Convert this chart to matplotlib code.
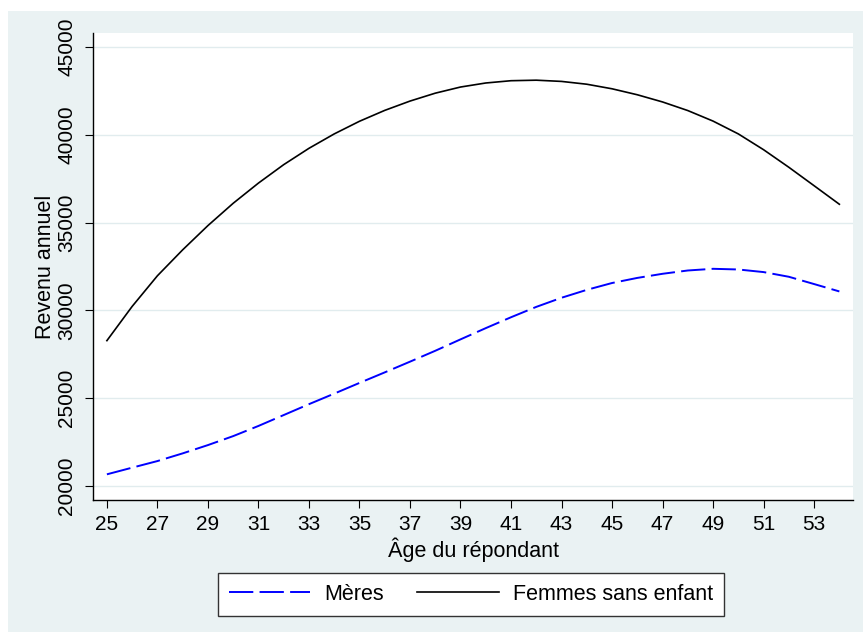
import matplotlib
matplotlib.use("Agg")
import matplotlib.pyplot as plt
from matplotlib.patches import Rectangle
from matplotlib.lines import Line2D

ages = list(range(25, 55))
meres = [20665, 21045, 21420, 21858, 22330, 22841, 23420, 24040, 24660, 25260,
         25870, 26470, 27080, 27700, 28350, 28990, 29610, 30200, 30720, 31170,
         31560, 31850, 32085, 32273, 32369, 32330, 32182, 31915, 31500, 31080]
sans_enfant = [28278, 30227, 31972, 33449, 34830, 36100, 37250, 38300, 39230, 40050,
               40770, 41390, 41920, 42370, 42720, 42950, 43080, 43110, 43040, 42880,
               42620, 42280, 41870, 41380, 40780, 40050, 39150, 38150, 37100, 36045]
xticks = list(range(25, 55, 2))
yticks = [20000, 25000, 30000, 35000, 40000, 45000]
series_labels = ["Mères", "Femmes sans enfant"]
xlabel = "Âge du répondant"
ylabel = "Revenu annuel"

plt.rcParams['font.family'] = ['Liberation Sans', 'DejaVu Sans']
plt.rcParams['lines.scale_dashes'] = False

W, H = 865, 632
fig = plt.figure(figsize=(W / 100, H / 100), dpi=100, facecolor='white')
bg = '#EAF2F3'
fig.patches.append(Rectangle((8 / W, 0), (863 - 8) / W, (632 - 11) / H,
                             transform=fig.transFigure, facecolor=bg,
                             edgecolor='none', zorder=-10))

ax = fig.add_axes([93 / W, (632 - 500) / H, (853 - 93) / W, (500 - 33) / H])
ax.set_facecolor('white')

blue_dash = (0, (17.5, 4.5))
ax.plot(ages, meres, color='#0000FF', lw=1.4, linestyle=blue_dash, zorder=3)
ax.plot(ages, sans_enfant, color='black', lw=1.2, zorder=3)

ax.set_xlim(24.45, 54.54)
ax.set_ylim(19203, 45797)
ax.set_xticks(xticks)
ax.set_yticks(yticks)
ax.set_yticklabels([str(v) for v in yticks], rotation=90, va='center')
ax.tick_params(axis='both', direction='out', length=6, width=0.8, color='black',
               labelsize=15, pad=5)
ax.tick_params(axis='y', pad=6)
ax.grid(axis='y', color='#E1ECEE', lw=1.0, zorder=0)
ax.set_axisbelow(True)
for s in ['top', 'right']:
    ax.spines[s].set_visible(False)
for s in ['left', 'bottom']:
    ax.spines[s].set_linewidth(1.0)
    ax.spines[s].set_color('black')

ax.set_xlabel(xlabel, fontsize=15.5, labelpad=2)
ax.set_ylabel(ylabel, fontsize=15.5, labelpad=1)

handles = [Line2D([], [], color='#0000FF', lw=1.4, linestyle=blue_dash),
           Line2D([], [], color='black', lw=1.2)]
leg = fig.legend(handles, series_labels, loc='center',
                 bbox_to_anchor=(471 / W, 1 - 594.5 / H), ncol=2,
                 fontsize=15.5, frameon=True, fancybox=False, shadow=False,
                 edgecolor='#333333', facecolor='white', framealpha=1,
                 handlelength=3.8, handletextpad=0.65, columnspacing=1.55,
                 borderpad=0.5, borderaxespad=0)
leg.get_frame().set_linewidth(1.0)

fig.savefig('out.png', dpi=100, facecolor='white')
